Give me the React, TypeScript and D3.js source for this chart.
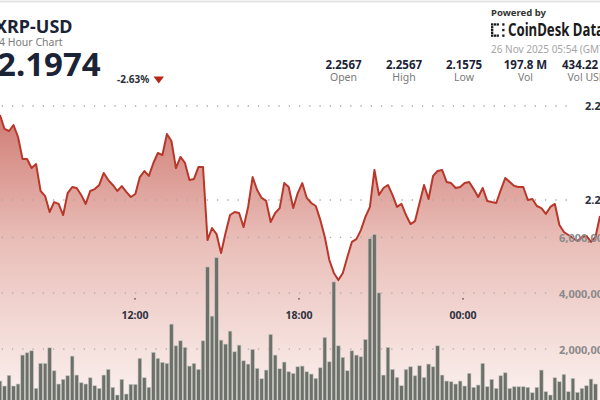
import React from 'react';
import * as d3 from 'd3';

const W = 600;
const H = 400;
const FONT = '"Noto Sans", "Open Sans", Arial, sans-serif';

// Price samples (XRP-USD, ~10 min steps across the visible window)
const prices = [
  2.2452, 2.2378, 2.2367, 2.2399, 2.2335, 2.2218, 2.2218, 2.2170, 2.2191, 2.2048, 2.2021, 2.1936, 2.1989, 2.1979, 2.1920, 2.2037, 2.2069, 2.2064, 2.2027, 2.1979, 2.2048, 2.2058, 2.2080, 2.2144, 2.2106, 2.2080, 2.2048, 2.2074, 2.2043, 2.2016, 2.2032, 2.2122, 2.2154, 2.2128,
  2.2197, 2.2250, 2.2239, 2.2351, 2.2314, 2.2170, 2.2229, 2.2197, 2.2106, 2.2112, 2.2176, 2.2176, 2.1787, 2.1851, 2.1819, 2.1718, 2.1824, 2.1920, 2.1936, 2.1931, 2.1856, 2.1963, 2.2122, 2.2053, 2.2011, 2.1995, 2.1883, 2.1931, 2.1957, 2.2090, 2.2069, 2.1957, 2.2037,
  2.2090, 2.2011, 2.1984, 2.1968, 2.1894, 2.1803, 2.1681, 2.1612, 2.1574, 2.1612, 2.1697, 2.1777, 2.1792, 2.1840, 2.1910, 2.1963, 2.2160, 2.2027, 2.2064, 2.2080, 2.2027, 2.1963, 2.1979, 2.1920, 2.1872, 2.1888, 2.1984, 2.2080, 2.2005, 2.2128, 2.2154, 2.2160, 2.2096, 2.2090,
  2.2064, 2.2069, 2.2090, 2.2096, 2.2058, 2.2016, 2.2064, 2.1995, 2.1989, 2.1984, 2.2053, 2.2117, 2.2096, 2.2074, 2.2069, 2.2069, 2.2000, 2.2005, 2.1968, 2.1957, 2.1926, 2.1963, 2.1979, 2.1867, 2.1830, 2.1814, 2.1798, 2.1782, 2.1803, 2.1809, 2.1777, 2.1803, 2.1915,
];

// Volume per interval
const volumes = [
  857e3, 679e3, 1061e3, 679e3, 750e3, 1786e3, 1868e3, 1939e3, 596e3, 1489e3, 1489e3, 2046e3, 1225e3, 750e3, 918e3, 1046e3, 1750e3, 1071e3, 796e3, 750e3, 975e3, 689e3, 596e3, 1071e3, 1275e3, 632e3, 357e3, 918e3, 393e3, 739e3, 739e3, 1668e3, 975e3, 632e3,
  1882e3, 1668e3, 1525e3, 1489e3, 2893e3, 2118e3, 2296e3, 2061e3, 1393e3, 1489e3, 1275e3, 2296e3, 4939e3, 3179e3, 5275e3, 2321e3, 2179e3, 2643e3, 1904e3, 2143e3, 1582e3, 1464e3, 1989e3, 1311e3, 939e3, 1250e3, 2525e3, 1786e3, 1296e3, 1536e3, 1189e3, 1132e3, 1368e3,
  1393e3, 1189e3, 1107e3, 954e3, 1332e3, 2418e3, 1546e3, 4404e3, 2118e3, 1704e3, 1225e3, 1939e3, 1786e3, 1725e3, 2346e3, 5954e3, 6107e3, 4011e3, 1071e3, 2061e3, 1275e3, 989e3, 689e3, 1275e3, 1368e3, 1046e3, 1404e3, 989e3, 1464e3, 1368e3, 2118e3, 1071e3, 857e3,
  832e3, 750e3, 857e3, 679e3, 1132e3, 632e3, 714e3, 1489e3, 654e3, 918e3, 596e3, 1046e3, 1154e3, 596e3, 654e3, 654e3, 654e3, 632e3, 439e3, 632e3, 1250e3, 475e3, 357e3, 975e3, 832e3, 1096e3, 475e3, 954e3, 454e3, 596e3, 689e3, 929e3, 750e3,
];

const priceTicks = [2.25, 2.2];
const volumeTicks = [6000000, 4000000, 2000000];
const timeTicks = [new Date(2025, 10, 25, 12, 0), new Date(2025, 10, 25, 18, 0), new Date(2025, 10, 26, 0, 0)];

const statValues = ['2.2567', '2.2567', '2.1575', '197.8 M', '434.22 M'];
const statLabels = ['Open', 'High', 'Low', 'Vol', 'Vol USD'];
const statCenters = [343.5, 404, 464, 525.5, 587];

const logoCells = [
  [1, 1, 1, 0, 1],
  [1, 0, 0, 0, 0],
  [1, 0, 0, 0, 1],
  [1, 0, 0, 0, 0],
  [1, 1, 1, 0, 1],
];

export default function App() {
  const xIdx = d3.scaleLinear().domain([0, prices.length - 1]).range([0, 600]);
  const xTime = d3.scaleTime().domain([timeTicks[0], timeTicks[2]]).range([135, 463]);
  const yPrice = d3.scaleLinear().domain([2.2, 2.25]).range([200, 106]);
  const yVol = d3.scaleLinear().domain([0, 6000000]).range([405, 237.3]);

  const line = d3.line<number>().x((_, i) => xIdx(i)).y((d) => yPrice(d)).curve(d3.curveLinear);
  const area = d3.area<number>().x((_, i) => xIdx(i)).y0(410).y1((d) => yPrice(d)).curve(d3.curveLinear);

  const step = xIdx(1) - xIdx(0);
  const barW = step - 0.9;
  const fmt = d3.format(',');

  return (
    <svg width={W} height={H} style={{ position: 'fixed', left: 0, top: 0, background: '#fff', fontFamily: FONT }}>
      <defs>
        <linearGradient id="areaGrad" gradientUnits="userSpaceOnUse" x1="0" y1="106" x2="0" y2="400">
          <stop offset="0" stopColor="#cd7870" />
          <stop offset="0.45" stopColor="#e9bdb7" />
          <stop offset="1" stopColor="#fbf1ef" />
        </linearGradient>
      </defs>
      <rect x={0} y={0} width={W} height={H} fill="#fff" />
      <line x1={0} x2={W} y1={1.5} y2={1.5} stroke="#e4e4e4" strokeWidth={2} />

      {/* header */}
      <text x={-5} y={33} fontSize={18} fontWeight={700} fill="#1b2436">XRP-USD</text>
      <text x={-7} y={45.5} fontSize={10.5} fill="#7a7a7a">24 Hour Chart</text>
      <text x={-3} y={76} fontSize={33} fontWeight={700} fill="#1b2436">2.1974</text>
      <text x={117} y={83} fontSize={10} fontWeight={700} fill="#2a2f3a">-2.63%</text>
      <path d="M153.5,76.5 L164,76.5 L158.75,83.5 Z" fill="#b8261b" />

      {statValues.map((v, i) => (
        <g key={v + i}>
          <text x={statCenters[i]} y={68.5} textAnchor="middle" fontSize={11.5} fontWeight={700} fill="#1b2436">{v}</text>
          <text x={statCenters[i]} y={81} textAnchor="middle" fontSize={10.5} fill="#7a7a7a">{statLabels[i]}</text>
        </g>
      ))}

      <text x={491} y={16} fontSize={9.5} fontWeight={700} fill="#333">Powered by</text>
      {logoCells.map((row, r) =>
        row.map((c, k) =>
          c ? <rect key={`${r}-${k}`} x={491 + k * 2.8} y={23.3 + r * 2.8} width={2.3} height={2.3} fill="#1b1b1b" /> : null
        )
      )}
      <text x={508} y={36} fontSize={17} fontWeight={700} fill="#1b1b1b" textLength={96} lengthAdjust="spacingAndGlyphs">CoinDesk Data</text>
      <text x={491} y={52.5} fontSize={10} fill="#a5a5a5">26 Nov 2025 05:54 (GMT)</text>

      {/* area */}
      <path d={area(prices) || ''} fill="url(#areaGrad)" />

      {/* grid */}
      {priceTicks.map((t) => (
        <line key={'pg' + t} x1={1.7} x2={573} y1={yPrice(t)} y2={yPrice(t)} stroke="#a9a9a9" strokeWidth={1.3} strokeDasharray="1.3 8.95" />
      ))}
      {volumeTicks.map((t) => (
        <line key={'vg' + t} x1={1.7} x2={550} y1={yVol(t)} y2={yVol(t)} stroke="#a9a9a9" strokeWidth={1.3} strokeDasharray="1.3 8.95" />
      ))}

      {/* volume bars */}
      {volumes.map((v, i) => (
        <rect
          key={'b' + i}
          x={xIdx(i) - barW / 2}
          y={yVol(v)}
          width={barW}
          height={yVol(0) - yVol(v)}
          fill="#6c7069"
          stroke="#c4c6c1"
          strokeWidth={0.6}
        />
      ))}

      {/* price line */}
      <path d={line(prices) || ''} fill="none" stroke="#b8372b" strokeWidth={2} strokeLinejoin="round" />

      {/* axis labels */}
      {priceTicks.map((t) => (
        <text key={'pl' + t} x={585} y={yPrice(t)} dy="0.35em" fontSize={11} fontWeight={700} fill="#2d3340">{t.toFixed(2)}</text>
      ))}
      {volumeTicks.map((t) => (
        <text key={'vl' + t} x={559} y={yVol(t) + 1} dy="0.35em" fontSize={11} fontWeight={700} fill="#8a8a8a">{fmt(t)}</text>
      ))}
      {timeTicks.map((t) => (
        <g key={'t' + t.getTime()}>
          <rect x={xTime(t) - 0.6} y={298} width={1.2} height={1.6} fill="#444" />
          <text x={xTime(t)} y={318.5} textAnchor="middle" fontSize={10.5} fontWeight={700} fill="#2d3340">{d3.timeFormat('%H:%M')(t)}</text>
        </g>
      ))}
    </svg>
  );
}
